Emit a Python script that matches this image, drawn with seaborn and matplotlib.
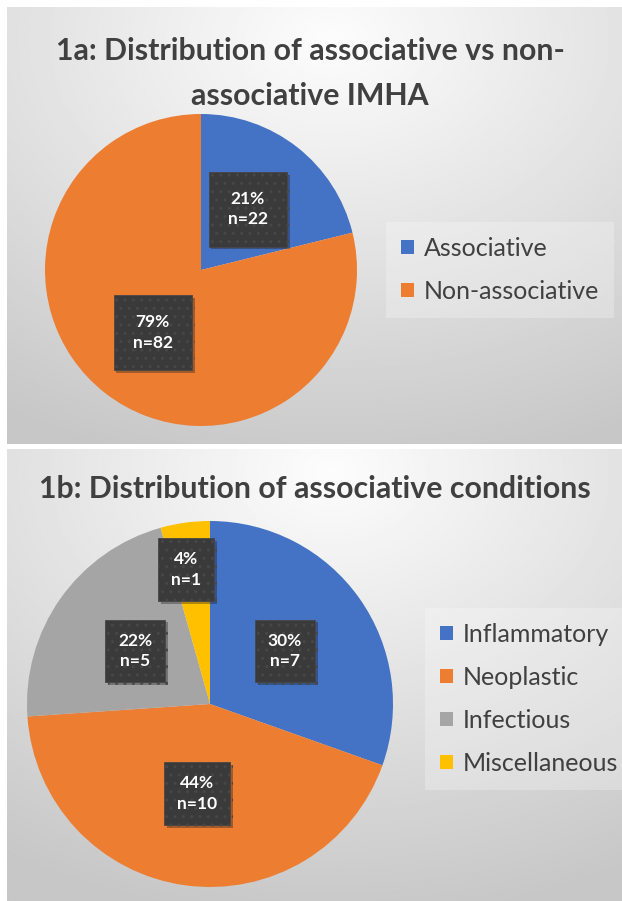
import numpy as np
import matplotlib
matplotlib.use("Agg")
import matplotlib.pyplot as plt
import matplotlib.patheffects as pe
import seaborn as sns

# ---------------- data ----------------
title_a = ["1a: Distribution of associative vs non-", "associative IMHA"]
cats_a = ["Associative", "Non-associative"]
counts_a = [22, 82]
pct_a = [21, 79]

title_b = "1b: Distribution of associative conditions"
cats_b = ["Inflammatory", "Neoplastic", "Infectious", "Miscellaneous"]
counts_b = [7, 10, 5, 1]
pct_b = [30, 44, 22, 4]

# ---------------- style ----------------
colors_a = sns.color_palette(["#4472C4", "#ED7D31"])
colors_b = sns.color_palette(["#4472C4", "#ED7D31", "#A5A5A5", "#FFC000"])
label_pos_a = [(0.30, 0.39), (-0.31, -0.40)]
label_pos_b = [(0.41, 0.29), (-0.07, -0.49), (-0.41, 0.29), (-0.13, 0.735)]

sns.set_theme(style="white")
plt.rcParams['font.family'] = ['Lato', 'DejaVu Sans']

W, H = 622, 901
fig = plt.figure(figsize=(W / 100, H / 100), dpi=100)
fig.patch.set_facecolor('white')

bg = fig.add_axes([0, 0, 1, 1], zorder=-10)
bg.set_xlim(0, W)
bg.set_ylim(H, 0)
bg.axis('off')


def panel(x0, y0, x1, y1, cx, cy):
    xs = np.linspace(x0, x1, 300)
    ys = np.linspace(y0, y1, 300)
    X, Y = np.meshgrid(xs, ys)
    d = np.sqrt(((X - cx) / (x1 - x0)) ** 2 + ((Y - cy) / (y1 - y0)) ** 2)
    img = np.clip(0.99 - 0.21 * d, 0.78, 1.0)
    bg.imshow(img, extent=(x0, x1, y1, y0), cmap='gray', vmin=0, vmax=1,
              aspect='auto', interpolation='bilinear', zorder=0)


panel(7, 7, W, 444, 330, 40)
panel(7, 449, W, H, 330, 470)
bg.set_xlim(0, W)
bg.set_ylim(H, 0)

title_kw = dict(ha='center', va='center', fontsize=21.8, fontweight='bold', color='#404040')
bg.text(310, 51, title_a[0], **title_kw)
bg.text(310, 96, title_a[1], **title_kw)
bg.text(315, 489, title_b, **title_kw)


def pie_axes(cx, cy, r):
    return fig.add_axes([(cx - r) / W, 1 - (cy + r) / H, 2 * r / W, 2 * r / H])


def draw_pie(ax, counts, pcts, colors, positions, pad):
    wedges, _ = ax.pie(counts, colors=colors, startangle=90, counterclock=False,
                       radius=1, wedgeprops=dict(linewidth=0))
    ax.set_xlim(-1, 1)
    ax.set_ylim(-1, 1)
    ax.axis('off')
    for p, n, (x, y) in zip(pcts, counts, positions):
        t = ax.text(x, y, f"{p}%\nn={n}", ha='center', va='center', color='white',
                    fontsize=12.5, fontweight='bold', linespacing=1.35,
                    bbox=dict(boxstyle=f'square,pad={pad}', facecolor='#3a3a3a',
                              edgecolor='#474747', hatch='..', linewidth=0.6))
        t.get_bbox_patch().set_path_effects(
            [pe.withSimplePatchShadow(offset=(2, -2), shadow_rgbFace='k', alpha=0.35)])
    return wedges


ax1 = pie_axes(201, 270, 156)
w1 = draw_pie(ax1, counts_a, pct_a, colors_a, label_pos_a, 1.1)
ax2 = pie_axes(210, 704, 183)
w2 = draw_pie(ax2, counts_b, pct_b, colors_b, label_pos_b, 0.75)

leg_kw = dict(loc='center left', frameon=True, facecolor='white', framealpha=0.25,
              edgecolor='none', fontsize=18, handlelength=0.52, handleheight=0.52,
              handletextpad=0.4, labelspacing=0.8, borderpad=0.6, borderaxespad=0,
              labelcolor='#404040', fancybox=False)
fig.legend(w1, cats_a, bbox_to_anchor=(386 / W, 1 - 270 / H), **leg_kw)
fig.legend(w2, cats_b, bbox_to_anchor=(425 / W, 1 - 699 / H), **leg_kw)

fig.savefig('out.png', dpi=100)
